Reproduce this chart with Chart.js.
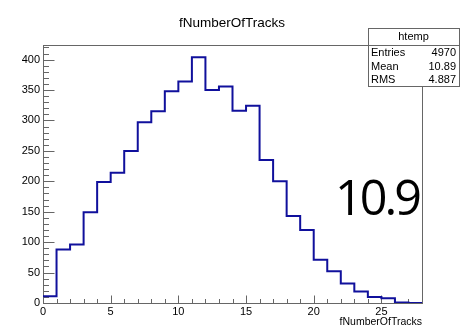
<!DOCTYPE html>
<html>
<head>
<meta charset="utf-8">
<script src="https://cdn.jsdelivr.net/npm/chart.js@4.4.1/dist/chart.umd.min.js"></script>
<style>
  html, body { margin: 0; padding: 0; background: #fff; }
  #c { display: block; }
</style>
</head>
<body>
<canvas id="c" width="461" height="331"></canvas>
<script>
// fNumberOfTracks histogram, unit-width bins starting at 0
const binEdgeLow = 0;
const binWidth = 1;
const binCounts = [11, 88, 96, 149, 199, 214, 250, 297, 315, 348, 364, 404, 350, 356,
                   316, 324, 235, 200, 143, 120, 71, 52, 32, 19, 10, 8, 1, 0];

const xRange = [0, 28];
const yRange = [0, 424];
const xMajorStep = 5, xMinorStep = 1;
const yMajorStep = 50, yMinorStep = 10;

const histTitle = 'fNumberOfTracks';
const histName = 'htemp';
const statLabels = ['Entries', 'Mean', 'RMS'];
const statValues = ['4970', '10.89', '4.887'];
const bigLabel = '10.9';

const FRAME = '#666';
const LINE = '#10109c';
const SANS = '"Liberation Sans", Arial, sans-serif';
const BIG_FONT = '"Open Sans", "Noto Sans", sans-serif';

Chart.defaults.font.family = SANS;
Chart.defaults.color = '#000';

// step outline: one point per bin low edge, plus the closing edge
const points = binCounts.map((c, i) => ({ x: binEdgeLow + i * binWidth, y: c }));
points.push({ x: binEdgeLow + binCounts.length * binWidth, y: binCounts[binCounts.length - 1] });

// frame with inward ticks, ROOT style
const rootFrame = {
    id: 'rootFrame',
    beforeDatasetsDraw(chart) {
        const { ctx, chartArea: a, scales: { x, y } } = chart;
        ctx.save();
        ctx.strokeStyle = FRAME;
        ctx.lineWidth = 1;
        ctx.strokeRect(a.left + 0.5, a.top + 0.5, a.right - a.left, a.bottom - a.top);
        ctx.beginPath();
        for (let v = xRange[0]; v < xRange[1]; v += xMinorStep) {
            const px = Math.round(x.getPixelForValue(v)) + 0.5;
            const len = v % xMajorStep === 0 ? 7.5 : 4;
            ctx.moveTo(px, a.bottom);
            ctx.lineTo(px, a.bottom - len);
        }
        for (let v = yRange[0]; v <= yRange[1]; v += yMinorStep) {
            const py = Math.round(y.getPixelForValue(v)) + 0.5;
            const len = v % yMajorStep === 0 ? 11.5 : 6;
            ctx.moveTo(a.left, py);
            ctx.lineTo(a.left + len, py);
        }
        ctx.stroke();

        // pad title, slightly right of the frame centre
        ctx.fillStyle = '#000';
        ctx.font = '13.5px ' + SANS;
        ctx.textAlign = 'center';
        ctx.textBaseline = 'middle';
        ctx.fillText(histTitle, 232, 23);
        ctx.restore();
    }
};

// stats box in the top-right corner and the big mean label
const statsBox = {
    id: 'statsBox',
    afterDraw(chart) {
        const { ctx } = chart;
        const L = 368, T = 28, R = 459, B = 86, H = 45;
        ctx.save();
        ctx.fillStyle = '#fff';
        ctx.fillRect(L, T, R - L, B - T);
        ctx.strokeStyle = FRAME;
        ctx.lineWidth = 1;
        ctx.strokeRect(L + 0.5, T + 0.5, R - L, B - T);
        ctx.beginPath();
        ctx.moveTo(L, H + 0.5);
        ctx.lineTo(R, H + 0.5);
        ctx.stroke();

        ctx.fillStyle = '#000';
        ctx.font = '11px ' + SANS;
        ctx.textBaseline = 'middle';
        ctx.textAlign = 'center';
        ctx.fillText(histName, (L + R) / 2, 37);
        const rowH = (B - H) / statLabels.length;
        statLabels.forEach((lab, i) => {
            const cy = H + rowH * (i + 0.5) + 1;
            ctx.textAlign = 'left';
            ctx.fillText(lab, L + 3, cy);
            ctx.textAlign = 'right';
            ctx.fillText(statValues[i], R - 3, cy);
        });

        // big label: size it so the digits are ~36px tall, tighten the spacing
        ctx.textAlign = 'left';
        ctx.textBaseline = 'alphabetic';
        ctx.font = '100px ' + BIG_FONT;
        const probe = ctx.measureText('0');
        const size = 36.4 / probe.actualBoundingBoxAscent * 100;
        ctx.font = size.toFixed(1) + 'px ' + BIG_FONT;
        ctx.letterSpacing = '-3px';
        const m = ctx.measureText(bigLabel);
        const inkW = m.actualBoundingBoxLeft + m.actualBoundingBoxRight;
        ctx.translate(339, 214.5);
        ctx.scale(Math.min(1, 81 / inkW), 1);
        ctx.fillText(bigLabel, m.actualBoundingBoxLeft, 0);
        ctx.restore();
    }
};

new Chart(document.getElementById('c'), {
    type: 'line',
    data: {
        datasets: [{
            data: points,
            stepped: true,
            borderColor: LINE,
            borderWidth: 2,
            pointRadius: 0,
            fill: false
        }]
    },
    options: {
        responsive: false,
        animation: false,
        devicePixelRatio: 1,
        layout: { padding: { left: 0, top: 45, right: 39, bottom: 0 } },
        plugins: {
            legend: { display: false },
            tooltip: { enabled: false },
            title: { display: false }
        },
        scales: {
            x: {
                type: 'linear',
                min: xRange[0],
                max: xRange[1],
                grid: { display: false, drawTicks: false },
                border: { display: false },
                ticks: {
                    stepSize: xMajorStep,
                    includeBounds: false,
                    maxRotation: 0,
                    autoSkip: false,
                    padding: 2,
                    font: { size: 11 }
                },
                title: {
                    display: true,
                    text: histTitle,
                    align: 'end',
                    font: { size: 10.5 },
                    padding: { top: 0, bottom: 3 }
                },
                afterFit(s) { s.height = 28; }
            },
            y: {
                min: yRange[0],
                max: yRange[1],
                grid: { display: false, drawTicks: false },
                border: { display: false },
                ticks: {
                    stepSize: yMajorStep,
                    includeBounds: false,
                    autoSkip: false,
                    padding: 3,
                    font: { size: 11 }
                },
                afterFit(s) { s.width = 43; }
            }
        }
    },
    plugins: [rootFrame, statsBox]
});
</script>
</body>
</html>
